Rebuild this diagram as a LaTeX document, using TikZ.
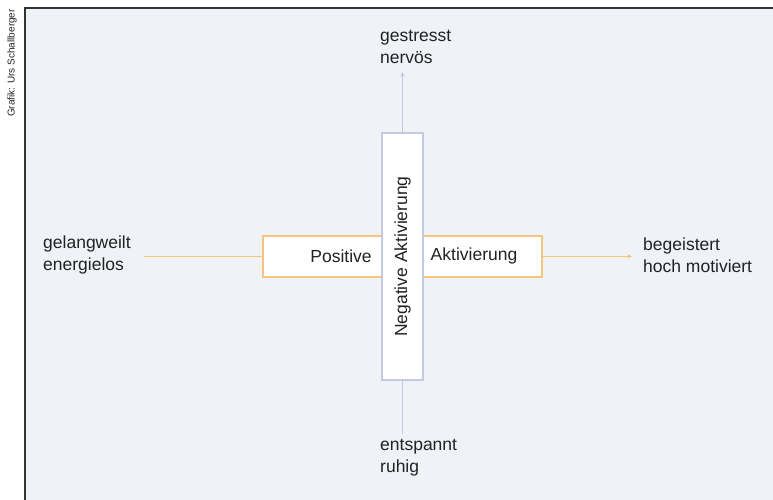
\documentclass[tikz,border=0pt]{standalone}
\usepackage{fontspec}
\setmainfont{Liberation Sans}
\usepackage{tikz}
\usetikzlibrary{positioning,arrows.meta}
\definecolor{panel}{HTML}{EFF2F6}
\definecolor{posline}{HTML}{F6C57C}
\definecolor{negline}{HTML}{C5CAE2}
\definecolor{ink}{HTML}{222222}

\begin{document}
\begin{tikzpicture}[x=1pt,y=-1pt,>={Stealth[length=5pt,width=4.5pt]},
  font=\fontsize{17.5}{22}\selectfont,text=ink,
  posbox/.style={draw=posline,line width=1.4pt,fill=white,minimum width=279pt,minimum height=41pt,inner sep=0pt},
  negbox/.style={draw=negline,line width=1.4pt,fill=white,minimum width=41pt,minimum height=247pt,inner sep=0pt},
  pole/.style={align=left,inner sep=0pt}]
  \useasboundingbox (0,0) rectangle (773,499);
  \fill[panel] (25,8) rectangle (774,500);
  \draw[black!80,line width=1.3pt] (25,500) -- (25,8) -- (774,8);
  \node[rotate=90,font=\fontsize{10}{11}\selectfont] (credit) at (12,63) {Grafik: Urs Schallberger};
  % boxes
  \node[posbox] (pos) at (402.5,256.5) {};
  \node[anchor=center] (posA) at (341,256) {Positive};
  \node[anchor=center] (posB) at (474,256) {Aktivierung};
  \node[negbox] (neg) at (402.5,256.5) {};
  \node[rotate=90] (negtxt) at (neg.center) {Negative Aktivierung};
  % poles
  \node[pole,anchor=west] (low) at (43,255) {gelangweilt\\energielos};
  \node[pole,anchor=west] (high) at (643,255) {begeistert\\hoch motiviert};
  \node[pole,anchor=west] (stress) at (380,47) {gestresst\\nervös};
  \node[pole,anchor=west] (calm) at (380,458) {entspannt\\ruhig};
  % connectors
  \draw[posline,line width=1.4pt,shorten <=13pt] (low.east |- pos.west) -- (pos.west);
  \draw[posline,line width=1.4pt,->,shorten >=11pt] (pos.east) -- (high.west |- pos.east);
  \draw[negline,line width=1.4pt,->,shorten >=8pt] (neg.north) -- (neg.north |- stress.south);
  \draw[negline,line width=1.4pt,shorten >=5pt] (neg.south) -- (neg.south |- calm.north);
\end{tikzpicture}
\end{document}
